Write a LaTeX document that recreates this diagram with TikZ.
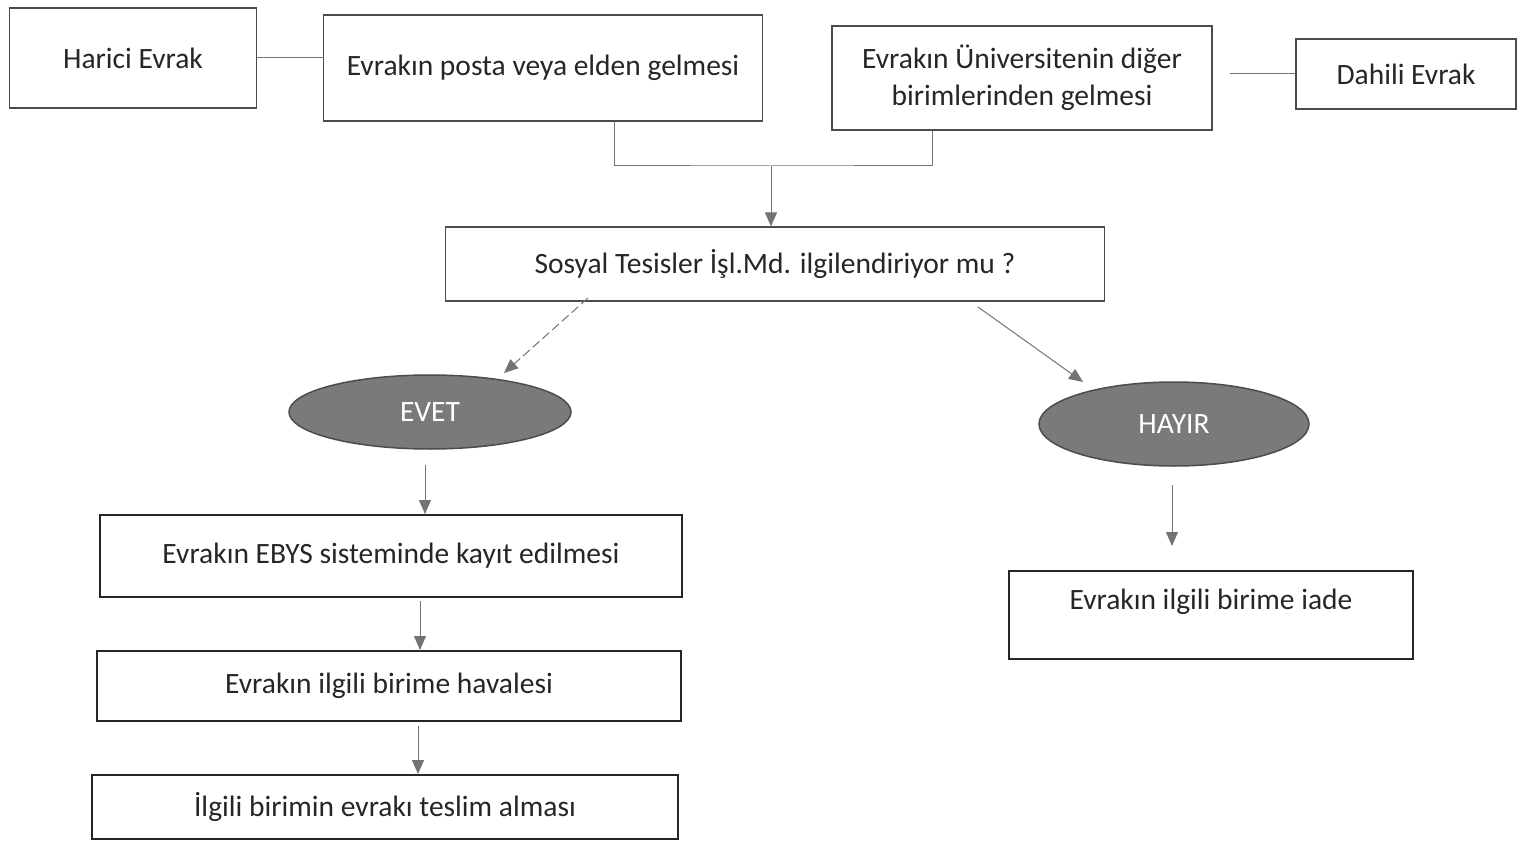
\documentclass[tikz,border=0pt]{standalone}
\usepackage{fontspec}
\setmainfont{Carlito}
\usetikzlibrary{shapes.geometric,arrows.meta}
\begin{document}
\begin{tikzpicture}[x=1pt,y=-1pt,
  txt/.style={font=\fontsize{29.5}{37}\selectfont, text=black!85, align=center},
  box/.style={txt, draw=black!85, line width=2pt, rectangle, inner sep=0pt},
  thinbox/.style={box, line width=1.2pt, draw=black!70},
  oval/.style={ellipse, draw=black!70, line width=1.5pt, fill=black!52, inner sep=0pt,
    text=white, font=\fontsize{29.5}{34}\selectfont},
  conn/.style={draw=black!55, line width=1pt},
  arr/.style={conn, -{Triangle[length=14pt,width=12pt]}},
  darr/.style={arr, dash pattern=on 9pt off 4pt},
]
\useasboundingbox (0,0) rectangle (1518,845);
\node[thinbox, minimum width=247, minimum height=100] (harici) at (133,58) {Harici Evrak};
\node[thinbox, minimum width=439, minimum height=106] (posta) at (543,68) {Evrakın posta veya elden gelmesi};
\node[thinbox, minimum width=380, minimum height=104] (univ) at (1022,78) {Evrakın Üniversitenin diğer\\birimlerinden gelmesi};
\node[thinbox, minimum width=220, minimum height=70] (dahili) at (1406,74) {Dahili Evrak};
\node[thinbox, minimum width=659, minimum height=74] (sosyal) at (775,264) {Sosyal Tesisler İşl.Md. ilgilendiriyor mu ?};
\node[oval, minimum width=282, minimum height=74] (evet) at (430,412) {EVET};
\node[oval, minimum width=270, minimum height=84] (hayir) at (1174,424) {HAYIR};
\node[box, minimum width=582, minimum height=82] (ebys) at (391,556) {Evrakın EBYS sisteminde kayıt edilmesi};
\node[box, minimum width=584, minimum height=70] (havale) at (389,686) {Evrakın ilgili birime havalesi};
\node[box, minimum width=586, minimum height=64] (teslim) at (385,807) {İlgili birimin evrakı teslim alması};
\node[box, minimum width=404, minimum height=88] (iade) at (1211,615) {};
\node[txt] (iadetext) at (1211,602) {Evrakın ilgili birime iade};

\coordinate (j) at (771,166);
\coordinate (u) at (1230,74);
\coordinate (eend) at (504,373);
\coordinate (hstart) at (978,307);
\coordinate (hend) at (1083,382);
\coordinate (dstart) at (588,298);
\coordinate (hy1) at (1172,485);
\coordinate (hy2) at (1172,546);
\draw[conn] (harici.east) -- (harici.east -| posta.west);
\draw[conn] (u) -- (dahili.west);
\draw[conn] (posta.south -| 614,0) |- (j) -| (univ.south -| 932,0);
\draw[arr] (j) -- (sosyal.north -| j);
\draw[darr] (dstart) -- (eend);
\draw[arr] (hstart) -- (hend);
\draw[arr] (425,465) -- (ebys.north -| 425,0);
\draw[arr] (420,601) -- (havale.north -| 420,0);
\draw[arr] (418,726) -- (teslim.north -| 418,0);
\draw[arr] (hy1) -- (hy2);
\end{tikzpicture}
\end{document}
